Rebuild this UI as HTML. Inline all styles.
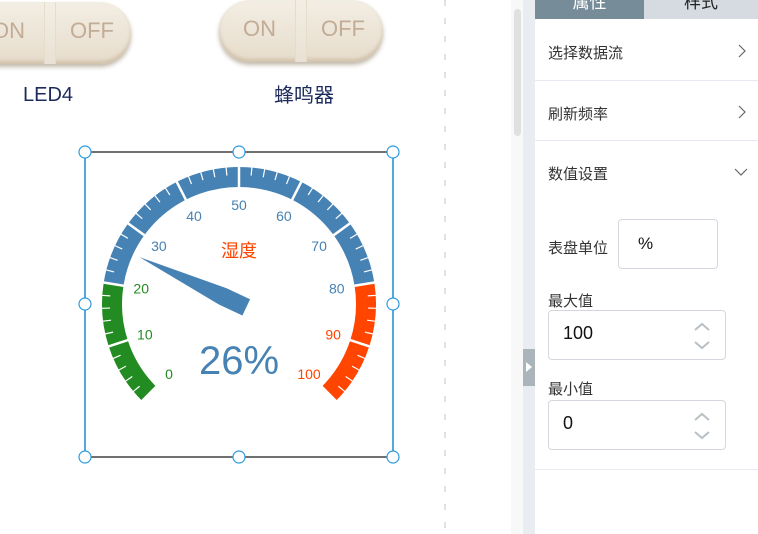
<!DOCTYPE html>
<html><head><meta charset="utf-8"><style>
*{margin:0;padding:0;box-sizing:border-box}
body{width:758px;height:534px;overflow:hidden;background:#fff;position:relative;font-family:"Liberation Sans","Noto Sans CJK SC",sans-serif}
.abs{position:absolute}
.sw{position:absolute;height:62px;border-radius:31px;background:linear-gradient(#f3eee4,#e6dccb);box-shadow:0 3px 4px rgba(120,100,70,.45),inset 0 -3px 3px rgba(190,170,140,.5);color:#c2ac96;font-size:22px}
.sw span{position:absolute;top:16px}
.sw i{position:absolute;top:0;bottom:0;width:12px;border-left:1px solid #e6dccc;border-right:1px solid #e6dccc;background:linear-gradient(#f3eee4,#e9e1d3)}
.row{position:absolute;left:535px;width:223px;border-bottom:1px solid #e6eaf0;font-size:15px;color:#333}
.row b{font-weight:normal;position:absolute;left:13px}
.row svg{position:absolute}
.inp{position:absolute;border:1px solid #d4d8de;border-radius:4px;background:#fff;font-size:18px;color:#111}
</style></head><body>
<div class="sw" style="left:-34px;top:2px;width:165px"><span style="left:26px">ON</span><i style="left:78px"></i><span style="left:104px">OFF</span></div>
<div class="abs" style="left:23px;top:84px;font-size:20px;color:#1c2b5c">LED4</div>
<div class="sw" style="left:219px;top:0;width:164px"><span style="left:24px">ON</span><i style="left:76px"></i><span style="left:102px">OFF</span></div>
<div class="abs" style="left:274px;top:79px;font-size:20px;color:#1c2b5c">蜂鸣器</div>
<div class="abs" style="left:444px;top:0;width:2px;height:534px;background:repeating-linear-gradient(#e2e2e2 0 6px,transparent 6px 18px)"></div>
<div class="abs" style="left:511px;top:0;width:12px;height:534px;background:#f8f8f8"></div>
<div class="abs" style="left:514px;top:9px;width:7px;height:127px;border-radius:4px;background:#e0e0e0"></div>
<div class="abs" style="left:523px;top:0;width:12px;height:534px;background:#e9edf2"></div>
<div class="abs" style="left:523px;top:349px;width:12px;height:37px;background:#a9b4bb"><div style="position:absolute;left:3px;top:13px;border-left:6px solid #fff;border-top:5px solid transparent;border-bottom:5px solid transparent"></div></div>
<div class="abs" style="left:535px;top:0;width:109px;height:19px;background:#778c99;color:#fff;font-size:17px;text-align:center;line-height:6px;overflow:hidden">属性</div>
<div class="abs" style="left:644px;top:0;width:114px;height:19px;background:#d5dbe0;color:#222;font-size:17px;text-align:center;line-height:6px;overflow:hidden">样式</div>
<div class="row" style="top:19px;height:62px"><b style="top:23px">选择数据流</b><svg style="right:12px;top:25px" width="8" height="14"><polyline points="1,1 7,7 1,13" fill="none" stroke="#666" stroke-width="1.2"/></svg></div>
<div class="row" style="top:81px;height:60px"><b style="top:22px">刷新频率</b><svg style="right:12px;top:24px" width="8" height="14"><polyline points="1,1 7,7 1,13" fill="none" stroke="#666" stroke-width="1.2"/></svg></div>
<div class="row" style="top:141px;height:329px"><b style="top:22px">数值设置</b><svg style="right:10px;top:27px" width="14" height="8"><polyline points="1,1 7,7 13,1" fill="none" stroke="#666" stroke-width="1.2"/></svg>
<b style="top:96px">表盘单位</b>
<b style="top:149px">最大值</b>
<b style="top:237px">最小值</b></div>
<div class="inp" style="left:618px;top:219px;width:100px;height:50px;padding:14px 0 0 19px;font-size:17px">%</div>
<div class="inp" style="left:548px;top:310px;width:178px;height:50px;padding:12px 0 0 14px">100<svg style="position:absolute;right:14px;top:10px" width="18" height="30"><polyline points="2,9 9,3 16,9" fill="none" stroke="#b8c0c6" stroke-width="2"/><polyline points="2,21 9,27 16,21" fill="none" stroke="#b8c0c6" stroke-width="2"/></svg></div>
<div class="inp" style="left:548px;top:400px;width:178px;height:50px;padding:12px 0 0 14px">0<svg style="position:absolute;right:14px;top:10px" width="18" height="30"><polyline points="2,9 9,3 16,9" fill="none" stroke="#b8c0c6" stroke-width="2"/><polyline points="2,21 9,27 16,21" fill="none" stroke="#b8c0c6" stroke-width="2"/></svg></div>

<svg id="g" class="abs" style="left:0;top:0" width="758" height="534">
<rect x="85" y="152" width="308" height="305" fill="none" stroke="#111" stroke-width="1.2"/>
<line x1="85" y1="152" x2="85" y2="457" stroke="#2c9be0" stroke-width="1.5"/>
<line x1="393" y1="152" x2="393" y2="457" stroke="#2c9be0" stroke-width="1.5"/>
</svg>
<script>
const gaugeValue=26;
const gaugeMin=0, gaugeMax=100;
const bandStops=[0.2,0.8,1];
const bandColors=['#228b22','#4682b4','#ff4500'];
const tickLabels=[0,10,20,30,40,50,60,70,80,90,100];
const unit='%';
const title='湿度';
const svg=document.getElementById('g');
const NS='http://www.w3.org/2000/svg';
const cx=239,cy=304,R=137,W=20;
const ang=v=>(225-270*(v-gaugeMin)/(gaugeMax-gaugeMin))*Math.PI/180;
const pt=(a,r)=>[cx+r*Math.cos(a),cy-r*Math.sin(a)];
function mk(t,attrs){const e=document.createElementNS(NS,t);for(const k in attrs)e.setAttribute(k,attrs[k]);svg.appendChild(e);return e;}
const colorAt=f=>{for(let i=0;i<bandStops.length;i++)if(f<=bandStops[i]+1e-9)return bandColors[i];return bandColors[bandColors.length-1];};
let prev=0;
bandStops.forEach((s,i)=>{
  const a0=ang(gaugeMin+prev*(gaugeMax-gaugeMin)),a1=ang(gaugeMin+s*(gaugeMax-gaugeMin));
  const r=R-W/2;const p0=pt(a0,r),p1=pt(a1,r);
  const large=(a0-a1)>Math.PI?1:0;
  const e=mk('path',{d:`M${p0[0]},${p0[1]} A${r},${r} 0 ${large} 1 ${p1[0]},${p1[1]}`,fill:'none',stroke:bandColors[i],'stroke-width':W});
  
  
  prev=s;
});
for(let k=0;k<=50;k++){
  const v=gaugeMin+(gaugeMax-gaugeMin)*k/50;const a=ang(v);
  const major=k%5===0;
  const p0=pt(a,R+1),p1=pt(a,major?R-W-1:R-8);
  mk('line',{x1:p0[0],y1:p0[1],x2:p1[0],y2:p1[1],stroke:'#fff','stroke-width':major?2.5:1.2});
}
tickLabels.forEach(v=>{
  const p=pt(ang(v),R-W-18);
  const f=(v-gaugeMin)/(gaugeMax-gaugeMin);
  const t=mk('text',{x:p[0],y:p[1]+5,'text-anchor':'middle','font-size':14,fill:colorAt(f===0?0.0001:f),'font-family':'Liberation Sans, sans-serif'});
  t.textContent=v;
  
  
});
const a=ang(gaugeValue);
const tip=pt(a,110);
const ux=Math.cos(a),uy=-Math.sin(a);      // unit toward tip
const nx=-uy,ny=ux;                          // normal
const P=(d,n)=>[cx+ux*d+nx*n,cy+uy*d+ny*n];
const ptr=mk('polygon',{points:[tip,P(18,9),P(-8,9),P(-8,-9),P(18,-9)].map(p=>p.join(',')).join(' '),fill:'#4682b4'});


const tt=mk('text',{x:cx,y:257,'text-anchor':'middle','font-size':18,fill:'#ff4500','font-family':'Liberation Sans, Noto Sans CJK SC, sans-serif'});
tt.textContent=title;


const vt=mk('text',{x:cx,y:374,'text-anchor':'middle','font-size':40,fill:'#4682b4','font-family':'Liberation Sans, sans-serif'});
vt.textContent=gaugeValue+unit;


[[85,152],[239,152],[393,152],[85,304],[393,304],[85,457],[239,457],[393,457]].forEach(([x,y])=>{
  const h=mk('circle',{cx:x,cy:y,r:6,fill:'#fff',stroke:'#2c9be0','stroke-width':1.2});
  
  
});
</script>
</body></html>
